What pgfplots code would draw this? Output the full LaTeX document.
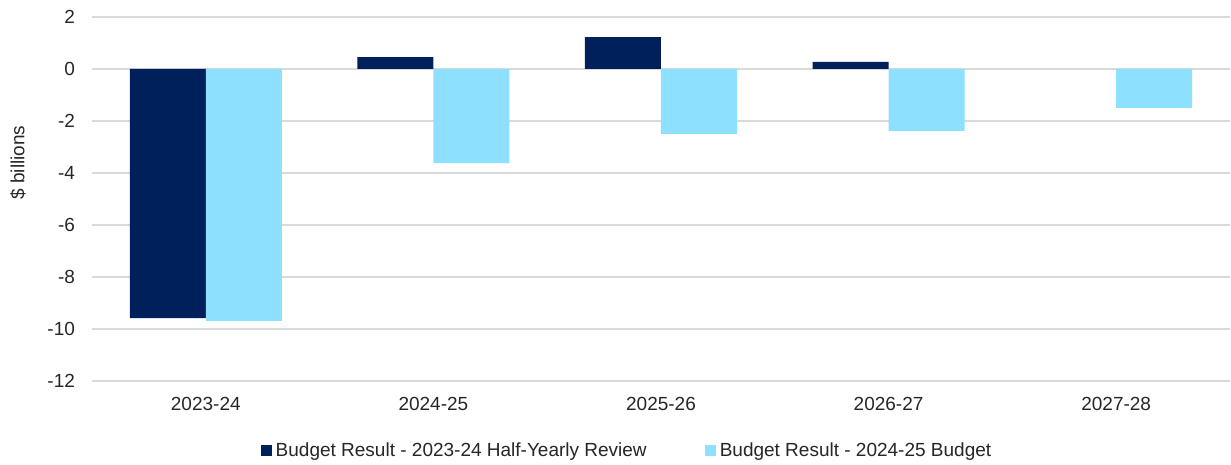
\documentclass[border=0pt]{standalone}
\usepackage{fontspec}
\setmainfont{Liberation Sans}
\usepackage{pgfplots}
\pgfplotsset{compat=1.18}
\definecolor{navy}{HTML}{00205B}
\definecolor{lightb}{HTML}{8EE0FF}
\definecolor{gridc}{HTML}{D9D9D9}
\begin{document}
\begin{tikzpicture}
\begin{axis}[
  at={(0,0)}, anchor=south west,
  scale only axis,
  width=569pt, height=182pt,
  ybar=0pt, bar width=38pt,
  xmin=-0.5, xmax=4.5,
  ymin=-12, ymax=2,
  ytick={-12,-10,...,2},
  xtick={0,1,2,3,4},
  xticklabels={2023-24,2024-25,2025-26,2026-27,2027-28},
  major tick length=0pt,
  axis line style={draw=none},
  ymajorgrids, grid style={gridc, line width=0.8pt},
  /pgf/number format/assume math mode=true,
  tick label style={font=\fontsize{9.5}{11}\selectfont, text=black!85},
  xticklabel style={yshift=-4.5pt},
  yticklabel style={xshift=-5pt},
  ylabel={\$ billions},
  ylabel style={font=\fontsize{9.5}{11}\selectfont, text=black!85, at={(axis description cs:-0.065,0.6)}, anchor=center},
  legend columns=2,
  legend style={draw=none, font=\fontsize{9.5}{11}\selectfont, text=black!85,
    at={(axis description cs:0.471,-0.192)}, anchor=center,
    /tikz/every even column/.append style={column sep=27pt}},
  legend image code/.code={\fill[#1] (0pt,-2.75pt) rectangle (5.5pt,2.75pt);},
]
\addplot[fill=navy, draw=none] coordinates {(0,-9.58) (1,0.46) (2,1.23) (3,0.27)};
\addplot[fill=lightb, draw=none] coordinates {(0,-9.69) (1,-3.62) (2,-2.5) (3,-2.38) (4,-1.5)};
\legend{Budget Result - 2023-24 Half-Yearly Review, Budget Result - 2024-25 Budget}
\end{axis}
\pgfresetboundingbox
\path[use as bounding box] (-46pt,-42pt) rectangle (569.5pt,190.5pt);
\end{tikzpicture}
\end{document}
